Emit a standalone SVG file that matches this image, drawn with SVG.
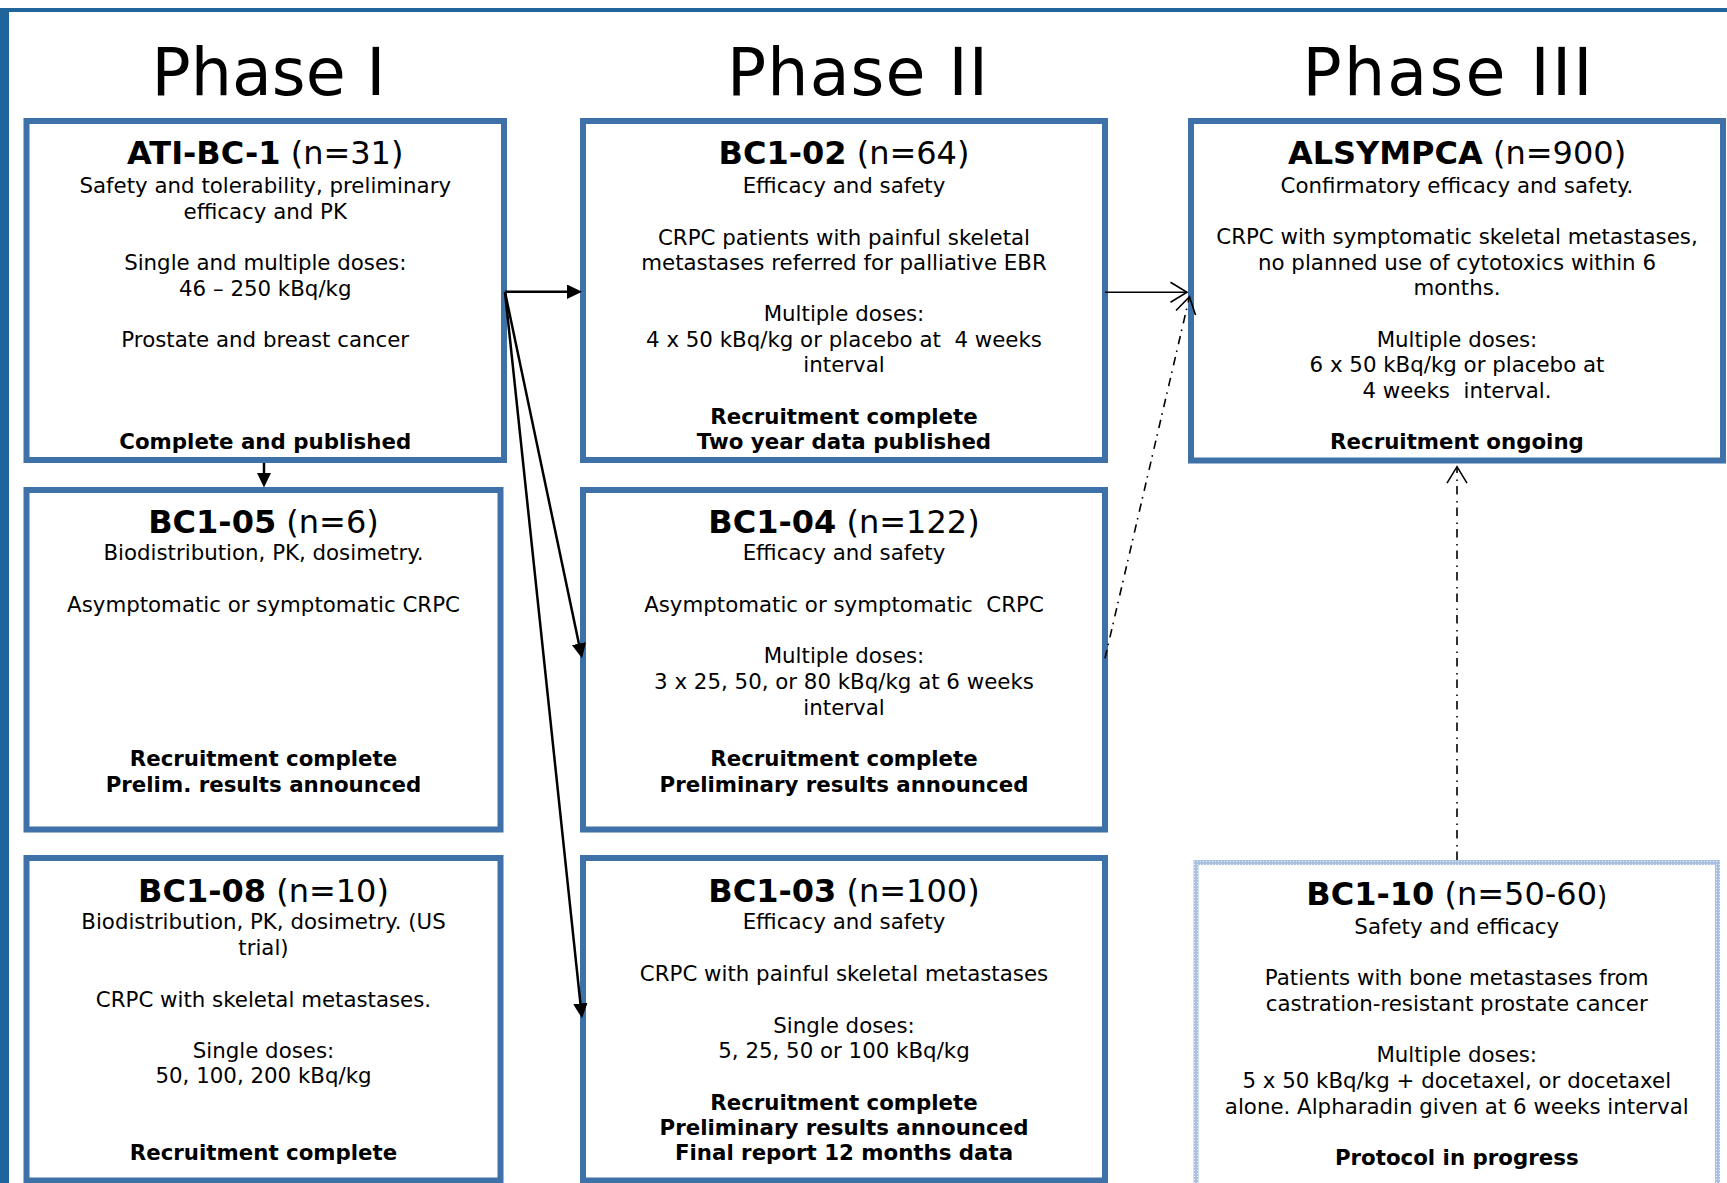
<svg xmlns="http://www.w3.org/2000/svg" width="1727" height="1183" viewBox="0 0 1727 1183">
<style>
  .bg { fill: #ffffff; }
  .frame { fill: #1f649a; }
  .box { fill: #ffffff; stroke: #3d71a8; stroke-width: 6; }
  .box10 { fill: #ffffff; stroke: url(#speck); stroke-width: 5; }
  text { font-family: "DejaVu Sans", Verdana, sans-serif; fill: #000000; text-anchor: middle; }
  .t { font-size: 21.33px; }
  .b { font-size: 21.33px; font-weight: bold; }
  .ti { font-size: 32px; }
  .ph { font-size: 65px; }
  .solid { stroke: #000000; stroke-width: 2.5; fill: none; }
  .thin { stroke: #000000; stroke-width: 1.5; fill: none; }
  .dashdot { stroke: #000000; stroke-width: 1.6; fill: none; stroke-dasharray: 8.5 5 1.6 6.4; }
</style>
<defs>
  <pattern id="speck" width="3" height="3" patternUnits="userSpaceOnUse">
    <rect width="3" height="3" fill="#a9c0de"/>
    <rect width="1" height="1" fill="#e8eff8"/>
  </pattern>
  <marker id="arrowFilled" markerUnits="userSpaceOnUse" markerWidth="16" markerHeight="16" refX="11" refY="7.2" orient="auto">
    <path d="M0,0 L15,7.2 L0,14.4 z" fill="#000000"/>
  </marker>
  <marker id="arrowOpen" markerUnits="userSpaceOnUse" markerWidth="20" markerHeight="24" refX="17.5" refY="11" orient="auto">
    <path d="M1,1 L17.5,11 L1,21" fill="none" stroke="#000000" stroke-width="1.6"/>
  </marker>
</defs>

<rect class="bg" x="0" y="0" width="1727" height="1183"/>
<g id="frame">
  <rect class="frame" x="0" y="8" width="1727" height="4"/>
  <rect class="frame" x="0" y="8" width="9" height="1175"/>
</g>

<g id="headings">
  <text class="ph" x="268.5" y="95" textLength="234" lengthAdjust="spacing">Phase I</text>
  <text class="ph" x="857.5" y="95" textLength="261" lengthAdjust="spacing">Phase II</text>
  <text class="ph" x="1447.5" y="95" textLength="290" lengthAdjust="spacing">Phase III</text>
</g>

<g id="node-ati-bc-1">
  <rect class="box" x="26.5" y="121" width="477.5" height="339"/>
  <text class="ti" x="265.25" y="164.3"><tspan font-weight="bold">ATI-BC-1</tspan> (n=31)</text>
  <text class="t" x="265.25" y="193.3">Safety and tolerability, preliminary</text>
  <text class="t" x="265.25" y="218.9">efficacy and PK</text>
  <text class="t" x="265.25" y="270.1">Single and multiple doses:</text>
  <text class="t" x="265.25" y="295.7">46 – 250 kBq/kg</text>
  <text class="t" x="265.25" y="346.9">Prostate and breast cancer</text>
  <text class="b" x="265.25" y="448.6">Complete and published</text>
</g>

<g id="node-bc1-02">
  <rect class="box" x="583" y="121" width="522" height="339"/>
  <text class="ti" x="844" y="164.3"><tspan font-weight="bold">BC1-02</tspan> (n=64)</text>
  <text class="t" x="844" y="193">Efficacy and safety</text>
  <text class="t" x="844" y="244.5">CRPC patients with painful skeletal</text>
  <text class="t" x="844" y="270">metastases referred for palliative EBR</text>
  <text class="t" x="844" y="321">Multiple doses:</text>
  <text class="t" x="844" y="346.8">4 x 50 kBq/kg or placebo at &#160;4 weeks</text>
  <text class="t" x="844" y="372.3">interval</text>
  <text class="b" x="844" y="423.5">Recruitment complete</text>
  <text class="b" x="844" y="448.8">Two year data published</text>
</g>

<g id="node-alsympca">
  <rect class="box" x="1191" y="121" width="532" height="339.5"/>
  <text class="ti" x="1457" y="164.3"><tspan font-weight="bold">ALSYMPCA</tspan> (n=900)</text>
  <text class="t" x="1457" y="193">Confirmatory efficacy and safety.</text>
  <text class="t" x="1457" y="244">CRPC with symptomatic skeletal metastases,</text>
  <text class="t" x="1457" y="269.6">no planned use of cytotoxics within 6</text>
  <text class="t" x="1457" y="295.3">months.</text>
  <text class="t" x="1457" y="346.8">Multiple doses:</text>
  <text class="t" x="1457" y="372.3">6 x 50 kBq/kg or placebo at</text>
  <text class="t" x="1457" y="397.8">4 weeks &#160;interval.</text>
  <text class="b" x="1457" y="448.8">Recruitment ongoing</text>
</g>

<g id="node-bc1-05">
  <rect class="box" x="26.5" y="490" width="474" height="339.5"/>
  <text class="ti" x="263.5" y="532.7"><tspan font-weight="bold">BC1-05</tspan> (n=6)</text>
  <text class="t" x="263.5" y="560.3">Biodistribution, PK, dosimetry.</text>
  <text class="t" x="263.5" y="612.2">Asymptomatic or symptomatic CRPC</text>
  <text class="b" x="263.5" y="766">Recruitment complete</text>
  <text class="b" x="263.5" y="791.5">Prelim. results announced</text>
</g>

<g id="node-bc1-04">
  <rect class="box" x="583" y="490" width="522" height="339.5"/>
  <text class="ti" x="844" y="532.7"><tspan font-weight="bold">BC1-04</tspan> (n=122)</text>
  <text class="t" x="844" y="560.3">Efficacy and safety</text>
  <text class="t" x="844" y="612.2">Asymptomatic or symptomatic &#160;CRPC</text>
  <text class="t" x="844" y="663.3">Multiple doses:</text>
  <text class="t" x="844" y="689">3 x 25, 50, or 80 kBq/kg at 6 weeks</text>
  <text class="t" x="844" y="714.6">interval</text>
  <text class="b" x="844" y="766">Recruitment complete</text>
  <text class="b" x="844" y="791.5">Preliminary results announced</text>
</g>

<g id="node-bc1-08">
  <rect class="box" x="26.5" y="858" width="474" height="322.5"/>
  <text class="ti" x="263.5" y="901.7"><tspan font-weight="bold">BC1-08</tspan> (n=10)</text>
  <text class="t" x="263.5" y="929.3">Biodistribution, PK, dosimetry. (US</text>
  <text class="t" x="263.5" y="955">trial)</text>
  <text class="t" x="263.5" y="1006.5">CRPC with skeletal metastases.</text>
  <text class="t" x="263.5" y="1058">Single doses:</text>
  <text class="t" x="263.5" y="1083.3">50, 100, 200 kBq/kg</text>
  <text class="b" x="263.5" y="1160.3">Recruitment complete</text>
</g>

<g id="node-bc1-03">
  <rect class="box" x="583" y="858" width="522" height="322.5"/>
  <text class="ti" x="844" y="901.7"><tspan font-weight="bold">BC1-03</tspan> (n=100)</text>
  <text class="t" x="844" y="929.3">Efficacy and safety</text>
  <text class="t" x="844" y="981">CRPC with painful skeletal metastases</text>
  <text class="t" x="844" y="1032.5">Single doses:</text>
  <text class="t" x="844" y="1058">5, 25, 50 or 100 kBq/kg</text>
  <text class="b" x="844" y="1109.5">Recruitment complete</text>
  <text class="b" x="844" y="1135">Preliminary results announced</text>
  <text class="b" x="844" y="1160.3">Final report 12 months data</text>
</g>

<g id="node-bc1-10">
  <rect class="box10" x="1196" y="862.5" width="521.5" height="330"/>
  <text class="ti" x="1456.75" y="905"><tspan font-weight="bold">BC1-10</tspan> (n=50-60<tspan font-size="26px">)</tspan></text>
  <text class="t" x="1456.75" y="934">Safety and efficacy</text>
  <text class="t" x="1456.75" y="985.2">Patients with bone metastases from</text>
  <text class="t" x="1456.75" y="1010.8">castration-resistant prostate cancer</text>
  <text class="t" x="1456.75" y="1062.3">Multiple doses:</text>
  <text class="t" x="1456.75" y="1088">5 x 50 kBq/kg + docetaxel, or docetaxel</text>
  <text class="t" x="1456.75" y="1113.6">alone. Alpharadin given at 6 weeks interval</text>
  <text class="b" x="1456.75" y="1165">Protocol in progress</text>
</g>

<g id="connectors">
  <line class="solid" x1="505" y1="291.7" x2="578" y2="291.7" marker-end="url(#arrowFilled)"/>
  <line class="solid" x1="505" y1="292" x2="581.18" y2="654.39" marker-end="url(#arrowFilled)"/>
  <line class="solid" x1="505" y1="292" x2="581.58" y2="1014.32" marker-end="url(#arrowFilled)"/>
  <line class="solid" x1="264" y1="463" x2="264" y2="483.5" marker-end="url(#arrowFilled)"/>
  <line class="thin" x1="1105" y1="292.3" x2="1187" y2="292.3" marker-end="url(#arrowOpen)"/>
  <line class="dashdot" x1="1105" y1="658.3" x2="1189.5" y2="296.7" marker-end="url(#arrowOpen)"/>
  <line class="dashdot" x1="1457" y1="860" x2="1457" y2="466.7" marker-end="url(#arrowOpen)"/>
</g>
</svg>
